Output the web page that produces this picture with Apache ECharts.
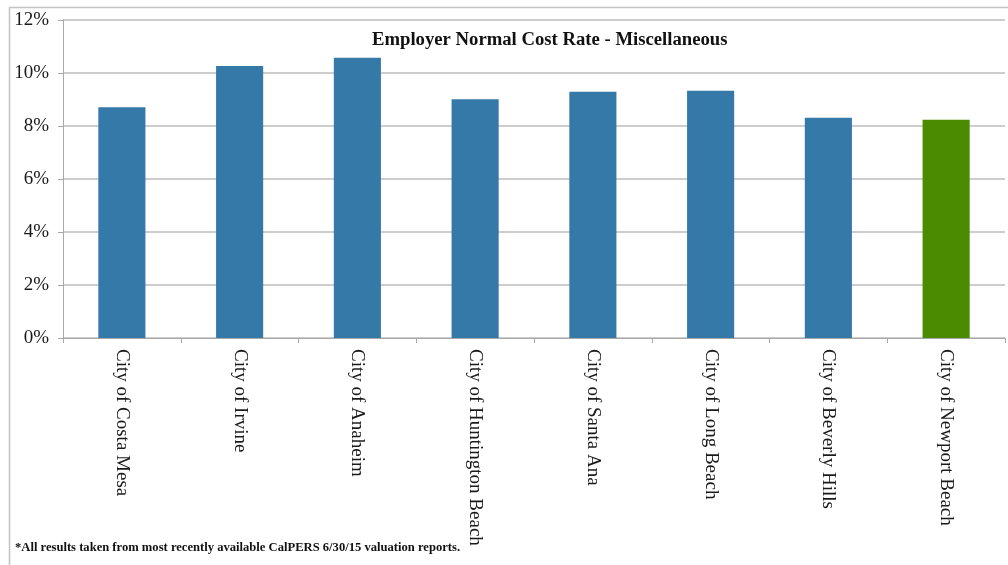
<!DOCTYPE html>
<html>
<head>
<meta charset="utf-8">
<script src="https://cdn.jsdelivr.net/npm/echarts@6/dist/echarts.min.js"></script>
<style>
  html, body { margin: 0; padding: 0; background: #ffffff; }
  #chart { width: 1008px; height: 565px; }
</style>
</head>
<body>
<div id="chart"></div>
<script>
// Employer normal cost rate (% of payroll), miscellaneous plans
const cities = [
  'City of Costa Mesa',
  'City of Irvine',
  'City of Anaheim',
  'City of Huntington Beach',
  'City of Santa Ana',
  'City of Long Beach',
  'City of Beverly Hills',
  'City of Newport Beach'
];
const normalCostRate = [8.71, 10.26, 10.58, 9.01, 9.29, 9.33, 8.31, 8.24];
const highlightCity = 'City of Newport Beach';
const yTicks = [0, 2, 4, 6, 8, 10, 12];

const blue = '#3579A8';
const green = '#4B8B00';
const serif = '"Liberation Serif", "Times New Roman", serif';

const chart = echarts.init(document.getElementById('chart'), null, { renderer: 'canvas' });

chart.setOption({
  backgroundColor: '#ffffff',
  animation: false,
  title: {
    text: 'Employer Normal Cost Rate - Miscellaneous',
    left: 367,
    top: 26,
    textStyle: { fontFamily: serif, fontWeight: 'bold', fontSize: 18.7, color: '#111' }
  },
  grid: { left: 63, right: 3, top: 20, bottom: 227, containLabel: false },
  xAxis: {
    type: 'category',
    data: cities,
    axisLine: { show: true, lineStyle: { color: '#a8a8a8', width: 1 } },
    axisTick: { show: true, alignWithLabel: false, length: 5, lineStyle: { color: '#a8a8a8' } },
    axisLabel: {
      rotate: -90,
      margin: 11,
      interval: 0,
      fontFamily: serif,
      fontSize: 19,
      color: '#1a1a1a'
    }
  },
  yAxis: {
    type: 'value',
    min: yTicks[0],
    max: yTicks[yTicks.length - 1],
    interval: 2,
    axisLine: { show: true, lineStyle: { color: '#a8a8a8', width: 1 } },
    axisTick: { show: true, length: 5, lineStyle: { color: '#a8a8a8' } },
    splitLine: { show: true, lineStyle: { color: '#bdbdbd', width: 1.5 } },
    axisLabel: {
      formatter: v => v + '%',
      margin: 14,
      fontFamily: serif,
      fontSize: 19,
      color: '#1a1a1a'
    }
  },
  series: [{
    type: 'bar',
    barWidth: '40%',
    data: normalCostRate.map((v, i) => ({
      value: v,
      itemStyle: { color: cities[i] === highlightCity ? green : blue }
    }))
  }],
  graphic: [
    {
      type: 'rect',
      left: 7, top: 5,
      shape: { width: 1020, height: 580 },
      style: { fill: 'none', stroke: '#c4c4c4', lineWidth: 1.5 },
      silent: true
    },
    {
      type: 'text',
      left: 15, top: 541,
      style: {
        text: '*All results taken from most recently available CalPERS 6/30/15 valuation reports.',
        font: 'bold 12.6px ' + serif,
        fill: '#111'
      }
    }
  ]
});
</script>
</body>
</html>
